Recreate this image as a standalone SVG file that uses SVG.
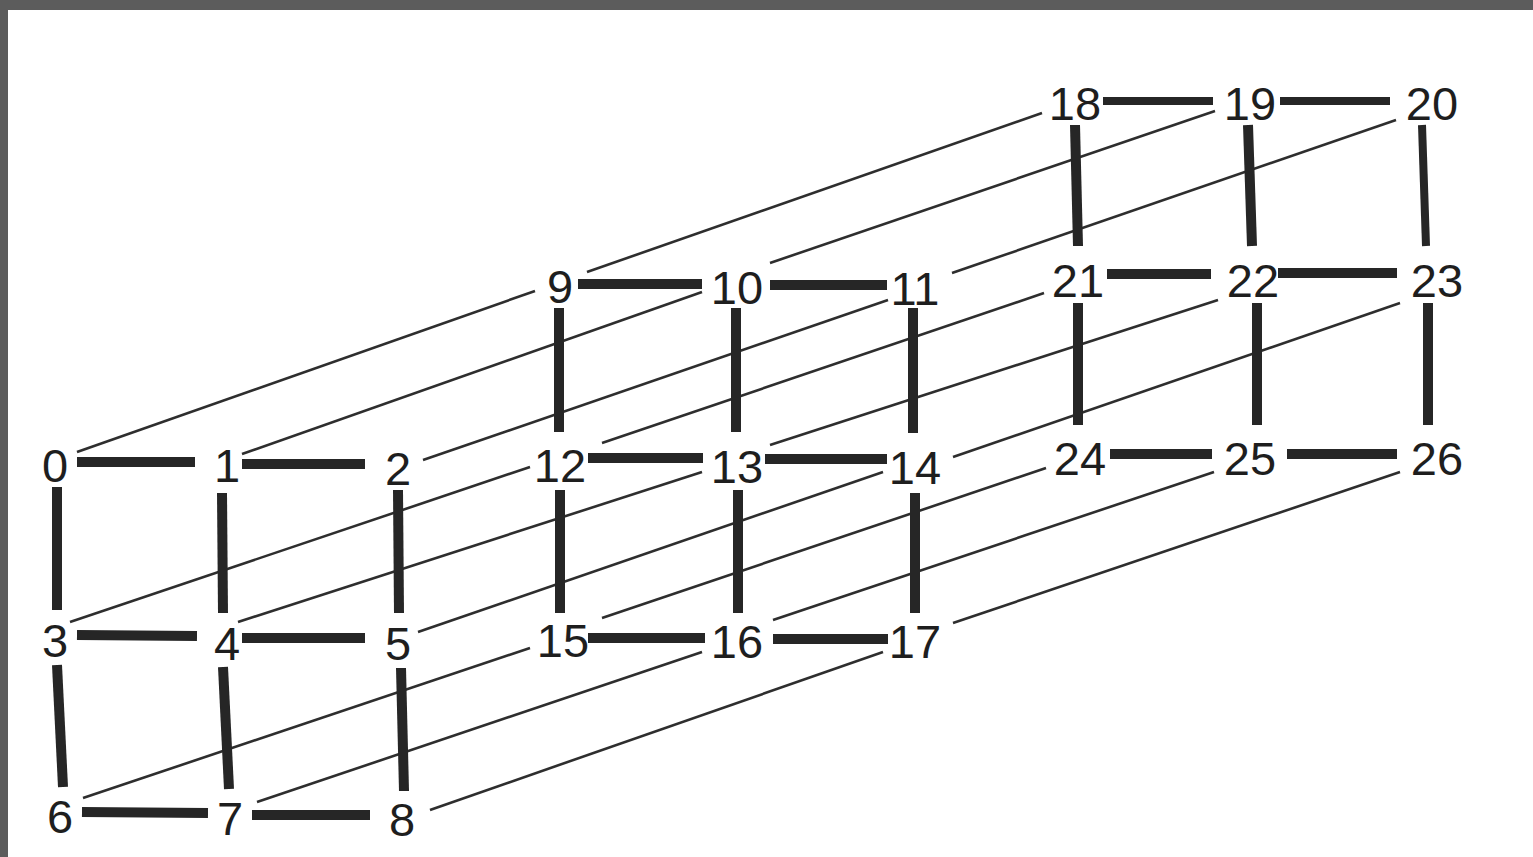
<svg xmlns="http://www.w3.org/2000/svg" width="1533" height="857" viewBox="0 0 1533 857">
<style>
.bg{fill:#ffffff}
.frame{fill:#5c5c5c}
.e{stroke:#262626;stroke-width:10;stroke-linecap:butt;fill:none}
.eb{stroke:#262626;stroke-width:8;stroke-linecap:butt;fill:none}
.d{stroke:#2e2e2e;stroke-width:2.6;stroke-linecap:butt;fill:none}
.n text{font-family:"Liberation Sans",Arial,sans-serif;font-size:47px;fill:#1e1e1e;text-anchor:middle}
</style>
<rect class="bg" x="0" y="0" width="1533" height="857"/>
<rect class="frame" x="0" y="0" width="1533" height="10"/>
<rect class="frame" x="0" y="0" width="8" height="857"/>
<g id="connectors">
<g id="depth-edges">
<line class="d" x1="77" y1="452" x2="535" y2="291"/>
<line class="d" x1="242" y1="454" x2="702" y2="292"/>
<line class="d" x1="423" y1="460" x2="888" y2="300"/>
<line class="d" x1="70" y1="622" x2="530" y2="467"/>
<line class="d" x1="238" y1="622" x2="702" y2="472"/>
<line class="d" x1="418" y1="632" x2="883" y2="472"/>
<line class="d" x1="83" y1="798" x2="530" y2="648"/>
<line class="d" x1="257" y1="802" x2="702" y2="652"/>
<line class="d" x1="430" y1="810" x2="883" y2="652"/>
<line class="d" x1="587" y1="272" x2="1042" y2="113"/>
<line class="d" x1="770" y1="263" x2="1215" y2="111"/>
<line class="d" x1="952" y1="273" x2="1396" y2="120"/>
<line class="d" x1="602" y1="443" x2="1044" y2="293"/>
<line class="d" x1="770" y1="445" x2="1218" y2="300"/>
<line class="d" x1="953" y1="457" x2="1400" y2="303"/>
<line class="d" x1="602" y1="618" x2="1046" y2="468"/>
<line class="d" x1="773" y1="620" x2="1214" y2="472"/>
<line class="d" x1="953" y1="623" x2="1400" y2="472"/>
</g>
<g id="layer-edges">
<line class="e" x1="77" y1="462" x2="195" y2="462"/>
<line class="e" x1="242" y1="464" x2="365" y2="464"/>
<line class="e" x1="77" y1="635" x2="197" y2="636"/>
<line class="e" x1="242" y1="638" x2="365" y2="638"/>
<line class="e" x1="82" y1="812" x2="208" y2="813"/>
<line class="e" x1="252" y1="815" x2="370" y2="815"/>
<line class="e" x1="57" y1="487" x2="57" y2="610"/>
<line class="e" x1="222" y1="493" x2="223" y2="613"/>
<line class="e" x1="398" y1="490" x2="399" y2="613"/>
<line class="e" x1="57" y1="665" x2="63" y2="787"/>
<line class="e" x1="223" y1="667" x2="229" y2="789"/>
<line class="e" x1="401" y1="668" x2="404" y2="791"/>
<line class="e" x1="578" y1="284" x2="702" y2="284"/>
<line class="e" x1="770" y1="285" x2="887" y2="285"/>
<line class="e" x1="588" y1="458" x2="703" y2="458"/>
<line class="e" x1="765" y1="459" x2="887" y2="459"/>
<line class="e" x1="588" y1="638" x2="705" y2="638"/>
<line class="e" x1="773" y1="639" x2="888" y2="639"/>
<line class="e" x1="559" y1="308" x2="559" y2="432"/>
<line class="e" x1="736" y1="308" x2="736" y2="432"/>
<line class="e" x1="913" y1="308" x2="913" y2="433"/>
<line class="e" x1="560" y1="490" x2="560" y2="613"/>
<line class="e" x1="738" y1="490" x2="738" y2="613"/>
<line class="e" x1="915" y1="493" x2="915" y2="613"/>
<line class="eb" x1="1103" y1="101" x2="1213" y2="101"/>
<line class="eb" x1="1280" y1="101" x2="1390" y2="101"/>
<line class="e" x1="1107" y1="274" x2="1211" y2="274"/>
<line class="e" x1="1278" y1="273" x2="1397" y2="273"/>
<line class="e" x1="1110" y1="454" x2="1212" y2="454"/>
<line class="e" x1="1287" y1="454" x2="1397" y2="454"/>
<line class="e" x1="1075" y1="125" x2="1078" y2="246"/>
<line class="e" x1="1248" y1="125" x2="1252" y2="246"/>
<line class="eb" x1="1422" y1="125" x2="1426" y2="246"/>
<line class="e" x1="1078" y1="303" x2="1078" y2="425"/>
<line class="e" x1="1257" y1="303" x2="1257" y2="425"/>
<line class="e" x1="1428" y1="303" x2="1428" y2="425"/>
</g>
</g>
<g class="n" id="n0"><text x="55" y="482">0</text></g>
<g class="n" id="n1"><text x="227" y="482">1</text></g>
<g class="n" id="n2"><text x="398" y="485">2</text></g>
<g class="n" id="n3"><text x="55" y="657">3</text></g>
<g class="n" id="n4"><text x="227" y="660">4</text></g>
<g class="n" id="n5"><text x="398" y="660">5</text></g>
<g class="n" id="n6"><text x="60" y="833">6</text></g>
<g class="n" id="n7"><text x="230" y="835">7</text></g>
<g class="n" id="n8"><text x="402" y="836">8</text></g>
<g class="n" id="n9"><text x="560" y="303">9</text></g>
<g class="n" id="n10"><text x="737" y="304">10</text></g>
<g class="n" id="n11"><text x="915" y="305">11</text></g>
<g class="n" id="n12"><text x="560" y="482">12</text></g>
<g class="n" id="n13"><text x="737" y="483">13</text></g>
<g class="n" id="n14"><text x="915" y="484">14</text></g>
<g class="n" id="n15"><text x="563" y="657">15</text></g>
<g class="n" id="n16"><text x="737" y="658">16</text></g>
<g class="n" id="n17"><text x="915" y="658">17</text></g>
<g class="n" id="n18"><text x="1075" y="120">18</text></g>
<g class="n" id="n19"><text x="1250" y="120">19</text></g>
<g class="n" id="n20"><text x="1432" y="120">20</text></g>
<g class="n" id="n21"><text x="1078" y="297">21</text></g>
<g class="n" id="n22"><text x="1253" y="297">22</text></g>
<g class="n" id="n23"><text x="1437" y="297">23</text></g>
<g class="n" id="n24"><text x="1080" y="475">24</text></g>
<g class="n" id="n25"><text x="1250" y="475">25</text></g>
<g class="n" id="n26"><text x="1437" y="475">26</text></g>
</svg>
